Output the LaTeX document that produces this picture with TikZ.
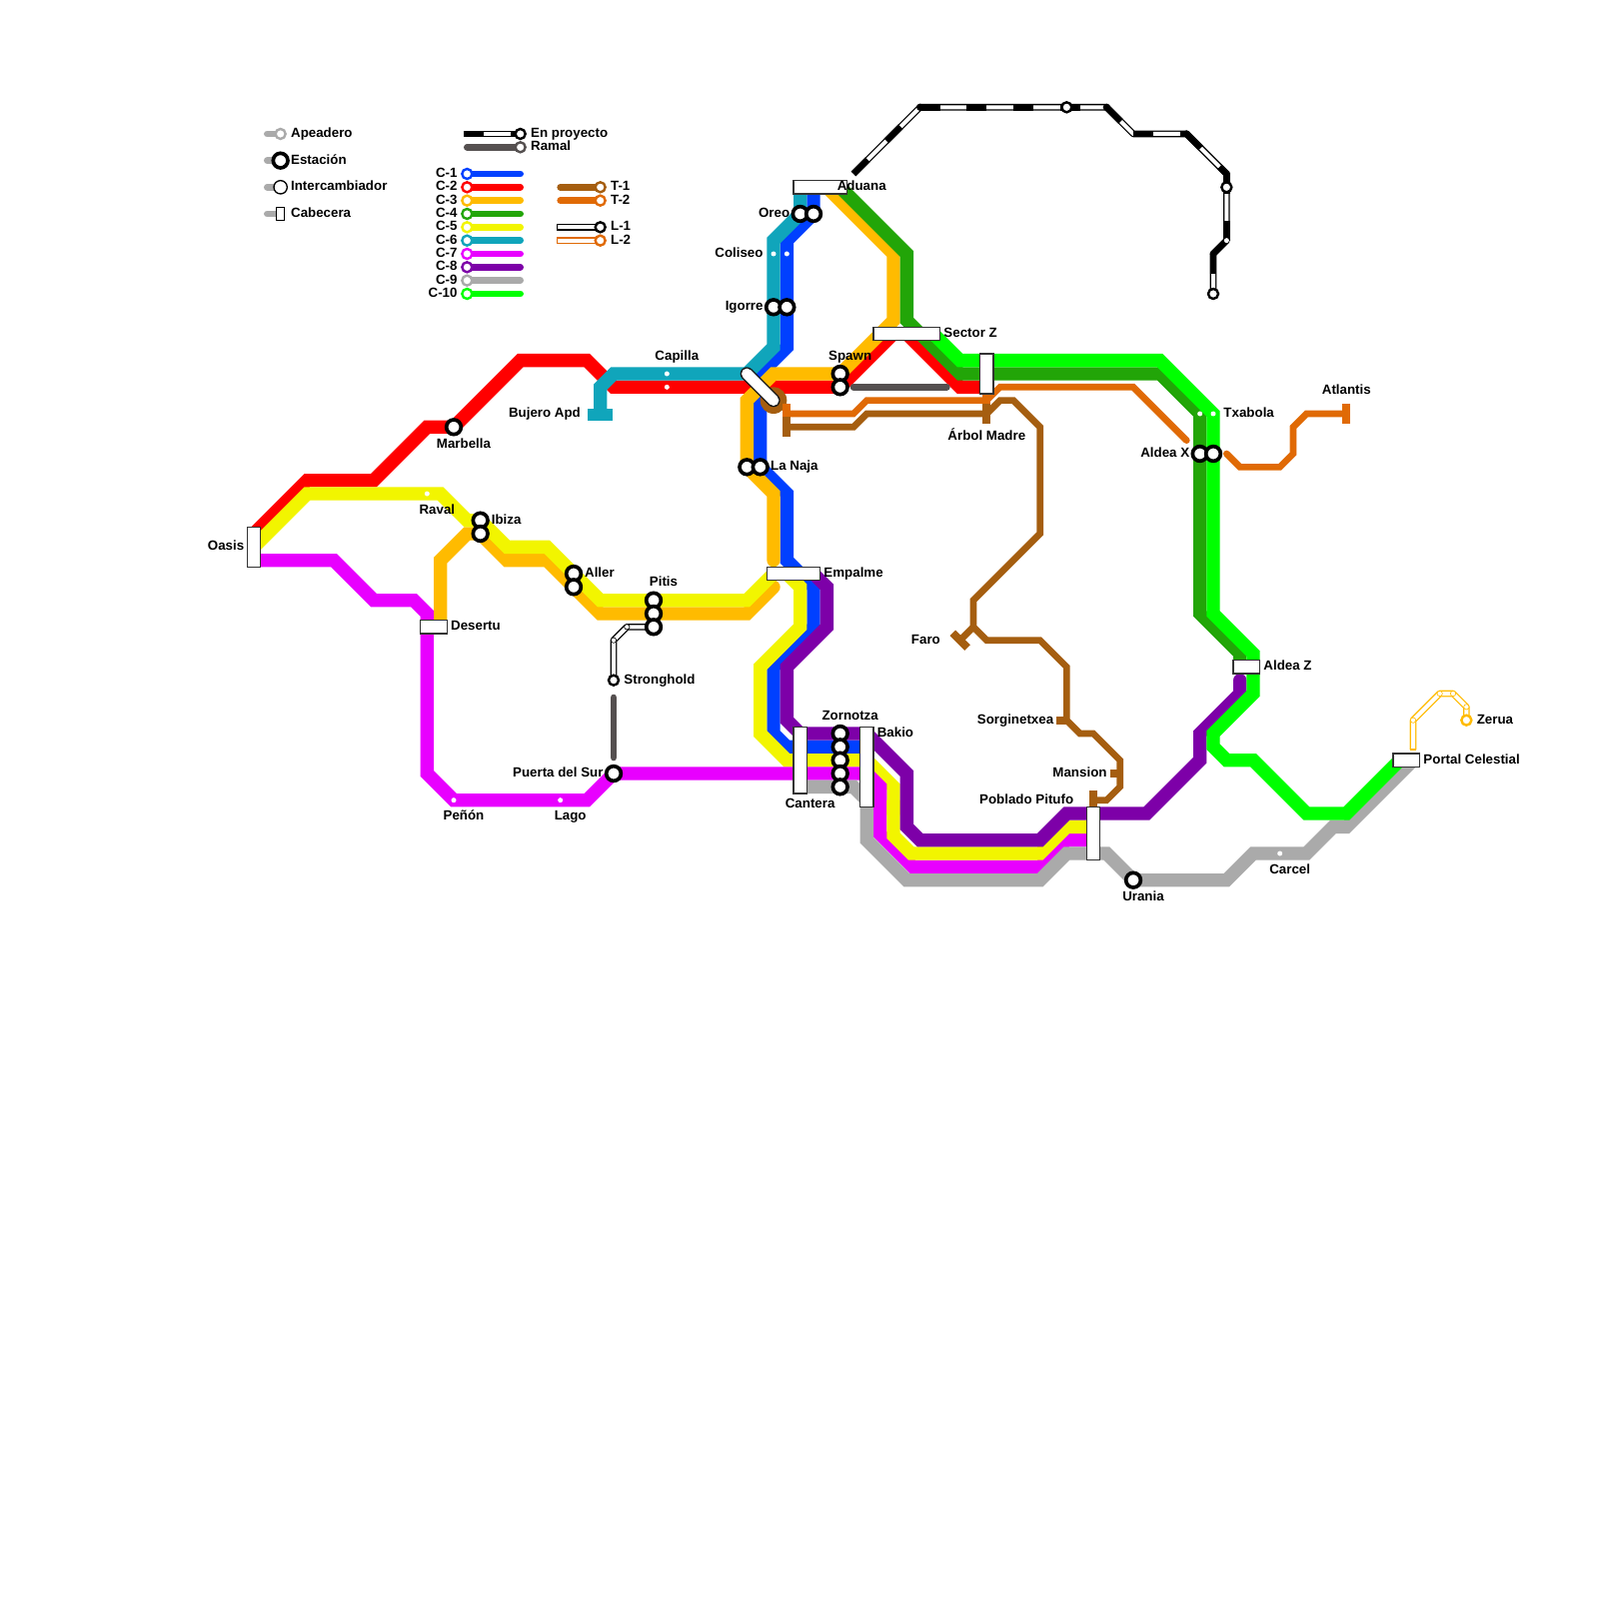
\documentclass[tikz,border=0pt]{standalone}
\usepackage{fontspec}
\setmainfont{Liberation Sans}
\definecolor{cA}{HTML}{0040FF}
\definecolor{cB}{HTML}{FF0000}
\definecolor{cC}{HTML}{FFBB00}
\definecolor{cD}{HTML}{22A508}
\definecolor{cE}{HTML}{F2F500}
\definecolor{cF}{HTML}{10A5BB}
\definecolor{cG}{HTML}{E800FF}
\definecolor{cH}{HTML}{7D00A8}
\definecolor{cI}{HTML}{AAAAAA}
\definecolor{cJ}{HTML}{00FF00}
\definecolor{cT}{HTML}{A55E10}
\definecolor{cU}{HTML}{E06A05}
\definecolor{cR}{HTML}{555050}
\tikzset{
  x=2mm,y=-2mm,
  route/.style={line width=2mm,line cap=round,line join=miter},
  thinroute/.style={line width=1mm,line cap=round,line join=miter},
  bar/.style={line width=1.2mm,line cap=butt},
  lone/.style={draw=black,double=white,line width=.2mm,double distance=.6mm,line join=round},
  works/.style={draw=black,line width=1mm,dash pattern=on 3mm off 4mm,line cap=butt},
  sta/.style={circle,draw=black,fill=white,line width=.55mm,minimum size=2.2mm,inner sep=0pt},
  ssta/.style={circle,draw=#1,fill=white,line width=.36mm,minimum size=1.5mm,inner sep=0pt},
  ssta/.default=black,
  dot/.style={circle,fill=white,minimum size=.75mm,inner sep=0pt},
  cdot/.style={circle,draw=#1,fill=white,line width=.1mm,minimum size=.8mm,inner sep=0pt},
  cdot/.default=black,
  hub/.style={rectangle,draw=black!80,fill=white,line width=.2mm,inner sep=0pt},
  lb/.style={font=\bfseries\fontsize{5.69pt}{5.69pt}\selectfont,text=black,inner sep=0pt},
}
\newcommand{\labW}[4]{\node[lb,anchor=base west] (#1) at (#2,#3+.27) {#4};}
\newcommand{\labE}[4]{\node[lb,anchor=base east] (#1) at (#2,#3+.27) {#4};}
\newcommand{\labC}[4]{\node[lb,anchor=base] (#1) at (#2,#3+.27) {#4};}
\begin{document}
\begin{tikzpicture}
\useasboundingbox (-.05,-.05) rectangle (119.95,119.95);
\fill[white] (-.05,-.05) rectangle (119.95,119.95);

% ---- main lines, C-1 lowest
\draw[route,cA] (61,14)--(61,16)--(59,18)--(59,26)--(57,28)--(57,35)--(59,37)--(59,42)--(61,44)--(61,47)--(58,50)--(58,55)--(59,56)--(65,56);
\draw[route,cB] (19,40)--(23,36)--(28,36)--(32,32)--(34,32)--(39,27)--(44,27)--(46,29)--(63,29)--(67,25)--(68,25)--(72,29)--(74,29);
\draw[route,cC] (62,14)--(67,19)--(67,24)--(63,28)--(58,28)--(56,30)--(56,35)--(58,37)--(58,42);
\draw[route,cC] (33,47)--(33,42)--(35,40)--(36,40)--(38,42)--(41,42)--(45,46)--(56,46)--(58,44);
\draw[route,cD] (63,14)--(68,19)--(68,24)--(72,28)--(87,28)--(90,31)--(90,46)--(93,49)--(93,50);
\draw[route,cE] (19,41)--(23,37)--(33,37)--(35,39)--(36,39)--(38,41)--(41,41)--(45,45)--(56,45)--(58,43)--(59,43)--(60,44)--(60,47)--(57,50)--(57,55)--(59,57)--(65,57)--(67,59)--(67,61);
\draw[route,line cap=butt,cF] (45,31)--(45,29)--(46,28)--(56,28)--(58,26)--(58,18)--(60,16)--(60,14);
\draw[line width=1.8mm,line cap=butt,cF] (44.05,31.05)--(45.95,31.05);
\draw[route,cG] (19,42)--(25,42)--(28,45)--(31,45)--(32,46)--(32,58)--(34,60)--(44,60)--(46,58)--(65,58)--(66,59)--(66,62.55)--(68.45,65)--(78,65)--(80,63)--(82,63);
\draw[route,line cap=butt,cE] (67,60)--(67,62.67)--(68.33,64)--(78,64)--(80,62)--(82,62);
\draw[route,cH] (61,43)--(62,44)--(62,47)--(59,50)--(59,54)--(60,55)--(65,55)--(68,58)--(68,62)--(69,63)--(78,63)--(80,61)--(86,61)--(90,57)--(90,55)--(93,52)--(93,51);
\draw[route,cI] (60,59)--(64,59)--(65,60)--(65,63)--(68,66)--(78,66)--(80,64)--(83,64)--(85,66)--(92,66)--(94,64)--(98,64)--(100,62)--(101,62)--(106,57);
\draw[route,cJ] (70,25)--(72,27)--(87,27)--(91,31)--(91,46)--(94,49)--(94,52)--(91,55)--(91,56)--(92,57)--(94,57)--(98,61)--(101,61)--(105,57);

% ---- T lines
\fill[cT] (58,30) circle (2mm);
\draw[thinroute,cU] (59,31)--(64,31)--(65,30)--(74,30)--(75,29)--(85,29)--(89,33);
\draw[thinroute,cU] (92,34)--(93,35)--(96,35)--(97,34)--(97,32)--(98,31)--(101,31);
\draw[bar,cU] (59,30.25)--(59,31.75);
\draw[bar,cU] (74,29.25)--(74,30.75);
\draw[bar,cU] (101,30.25)--(101,31.75);
\draw[thinroute,cT] (59,32)--(64,32)--(65,31)--(74,31)--(75,30)--(76,30)--(78,32)--(78,40)--(73,45)--(73,47)--(74,48)--(78,48)--(80,50)--(80,54)--(81,55)--(82,55)--(84,57)--(84,59)--(83,60)--(82,60);
\draw[thinroute,cT] (73,47)--(72,48);
\draw[bar,cT] (59,31.25)--(59,32.75);
\draw[bar,cT] (74,30.25)--(74,31.75);
\draw[bar,cT] (71.45,47.45)--(72.55,48.55);
\draw[bar,cT] (79.25,54)--(80,54);
\draw[bar,cT] (83.25,58)--(84,58);
\draw[bar,cT] (82,59.25)--(82,60.75);

% ---- branches
\draw[thinroute,cR] (46,52.3)--(46,56.8);
\draw[thinroute,cR] (64,29)--(71,29);

% ---- projected line
\draw[lone] (64,13)--(69,8)--(83,8)--(85,10)--(89,10)--(92,13)--(92,18)--(91,19)--(91,22);
\draw[works] (64,13)--(69,8);
\draw[works] (69,8)--(83,8);
\draw[works] (83,8)--(85,10);
\draw[works] (85,10)--(89,10);
\draw[works] (89,10)--(92,13);
\draw[works] (92,13)--(92,18);
\draw[works] (92,18)--(91,19);
\draw[works] (91,19)--(91,22);
\fill (69,8) circle (.55mm) (83,8) circle (.55mm) (89,10) circle (.55mm) (92,13) circle (.55mm) (91,19) circle (.5mm);

% ---- stations
\node[ssta] (p1) at (80,8) {};
\node[ssta] (p2) at (92,14) {};
\node[ssta] (p3) at (91,22) {};
\node[dot]  (p4) at (92,18) {};

% L-1
\coordinate (pitL) at (49,47);
\coordinate (strL) at (46,51);
\draw[lone] (pitL)--(47,47)--(46,48)--(strL);
\node[cdot] (l1a) at (47,47) {};
\node[cdot] (l1b) at (46,48) {};
\node[ssta] (stronghold) at (strL) {};

% L-2
\coordinate (zerL) at (110,54);
\draw[lone,draw=cC] (106,56.2)--(106,54)--(108,52)--(109,52)--(110,53)--(zerL);
\draw[cC,line width=.2mm] (105.75,56.2)--(106.25,56.2);
\node[cdot=cC] (l2a) at (106,54) {};
\node[cdot=cC] (l2b) at (108,52) {};
\node[cdot=cC] (l2c) at (109,52) {};
\node[cdot=cC] (l2d) at (110,53) {};
\node[ssta=cC] (zerua) at (zerL) {};

\node[sta] (pitA) at (49,45) {};
\node[sta] (pitB) at (49,46) {};
\node[sta] (pitC) at (pitL) {};
\node[sta] (marbella) at (34,32) {};
\node[sta] (ibizaA) at (36,39) {};
\node[sta] (ibizaB) at (36,40) {};
\node[sta] (allerA) at (43,43) {};
\node[sta] (allerB) at (43,44) {};
\node[sta] (pdelsur) at (46,58) {};
\node[sta] (oreoA) at (60,16) {};
\node[sta] (oreoB) at (61,16) {};
\node[sta] (igorreA) at (58,23) {};
\node[sta] (igorreB) at (59,23) {};
\node[sta] (spawnA) at (63,28) {};
\node[sta] (spawnB) at (63,29) {};
\node[sta] (najaA) at (56,35) {};
\node[sta] (najaB) at (57,35) {};
\node[sta] (zorA) at (63,55) {};
\node[sta] (zorB) at (63,56) {};
\node[sta] (zorC) at (63,57) {};
\node[sta] (zorD) at (63,58) {};
\node[sta] (zorE) at (63,59) {};
\node[sta] (urania) at (85,66) {};
\node[sta] (aldeaA) at (90,34) {};
\node[sta] (aldeaB) at (91,34) {};
% white centres on top, so touching rings stay whole
\foreach \n in {pitA,pitB,pitC,ibizaA,ibizaB,allerA,allerB,oreoA,oreoB,igorreA,igorreB,spawnA,spawnB,najaA,najaB,zorA,zorB,zorC,zorD,zorE,aldeaA,aldeaB}
  \fill[white] (\n.center) circle (.55mm);

\node[dot] (raval) at (32,37) {};
\node[dot] (capA) at (50,28) {};
\node[dot] (capB) at (50,29) {};
\node[dot] (colA) at (58,19) {};
\node[dot] (colB) at (59,19) {};
\node[dot] (penon) at (34,60) {};
\node[dot] (lago) at (42,60) {};
\node[dot] (txaA) at (90,31) {};
\node[dot] (txaB) at (91,31) {};
\node[dot] (carcel) at (96,64) {};

% ---- terminals
\node[hub,minimum width=2mm,minimum height=6mm] (oasis) at (19,41) {};
\node[hub,minimum width=4mm,minimum height=2mm] (desertu) at (32.5,47) {};
\node[hub,minimum width=8mm,minimum height=2mm] (aduana) at (61.5,14) {};
\node[hub,minimum width=10mm,minimum height=2mm] (sectorz) at (68,25) {};
\node[hub,minimum width=2mm,minimum height=6mm] (arbol) at (74,28) {};
\node[hub,minimum width=8mm,minimum height=2mm] (empalme) at (59.5,43) {};
\node[hub,minimum width=2mm,minimum height=10mm] (cantera) at (60,57) {};
\node[hub,minimum width=2mm,minimum height=12mm] (bakio) at (65,57.5) {};
\node[hub,minimum width=2mm,minimum height=8mm] (poblado) at (82,62.5) {};
\node[hub,minimum width=4mm,minimum height=2mm] (aldeaz) at (93.5,50) {};
\node[hub,minimum width=4mm,minimum height=2mm] (portal) at (105.5,57) {};
% interchange
\draw[line width=2mm,line cap=round,black!90] (56,28)--(58,30);
\draw[line width=1.6mm,line cap=round,white] (56,28)--(58,30);

% ---- labels
\labE{lOasis}{18.3}{41}{Oasis}
\labC{lMarbella}{34.75}{33.3}{Marbella}
\labC{lRaval}{32.75}{38.3}{Raval}
\labW{lIbiza}{36.8}{39}{Ibiza}
\labW{lAller}{43.8}{43}{Aller}
\labC{lPitis}{49.75}{43.7}{Pitis}
\labW{lDesertu}{33.75}{47}{Desertu}
\labW{lStronghold}{46.75}{51}{Stronghold}
\labE{lPuerta}{45.25}{58}{Puerta del Sur}
\labC{lPenon}{34.75}{61.2}{Peñón}
\labC{lLago}{42.75}{61.2}{Lago}
\labC{lCapilla}{50.75}{26.75}{Capilla}
\labE{lBujero}{43.55}{31}{Bujero Apd}
\labE{lOreo}{59.25}{16}{Oreo}
\labE{lColiseo}{57.25}{19}{Coliseo}
\labE{lIgorre}{57.25}{23}{Igorre}
\labC{lSpawn}{63.75}{26.75}{Spawn}
\labW{lNaja}{57.75}{35}{La Naja}
\labW{lAduana}{62.75}{14}{Aduana}
\labW{lSector}{70.75}{25}{Sector Z}
\labC{lArbol}{74}{32.75}{Árbol Madre}
\labW{lEmpalme}{61.75}{43}{Empalme}
\labE{lFaro}{70.55}{48}{Faro}
\labC{lZornotza}{63.75}{53.75}{Zornotza}
\labW{lBakio}{65.75}{55}{Bakio}
\labC{lCantera}{60.75}{60.3}{Cantera}
\labE{lSorgin}{79.05}{54}{Sorginetxea}
\labE{lMansion}{83.05}{58}{Mansion}
\labE{lPoblado}{80.55}{60}{Poblado Pitufo}
\labC{lUrania}{85.75}{67.3}{Urania}
\labC{lCarcel}{96.75}{65.3}{Carcel}
\labW{lPortal}{106.75}{57}{Portal Celestial}
\labW{lZerua}{110.75}{54}{Zerua}
\labW{lAldeaZ}{94.75}{50}{Aldea Z}
\labC{lAtlantis}{101}{29.3}{Atlantis}
\labW{lTxabola}{91.75}{31}{Txabola}
\labE{lAldeaX}{89.25}{34}{Aldea X}

% ---- legend, station kinds
\draw[thinroute,cI] (20,10)--(21,10);
\node[ssta=cI] (kApe) at (21,10) {};
\labW{kApeL}{21.75}{10}{Apeadero}
\draw[thinroute,cI] (20,12)--(21,12);
\node[sta] (kEst) at (21,12) {};
\labW{kEstL}{21.75}{12}{Estación}
\draw[thinroute,cI] (20,14)--(21,14);
\node[circle,draw=black,fill=white,line width=.2mm,minimum size=2mm,inner sep=0pt] (kInt) at (21,14) {};
\labW{kIntL}{21.75}{14}{Intercambiador}
\draw[thinroute,cI] (20,16)--(21,16);
\node[hub,draw=black,minimum width=1.2mm,minimum height=2mm] (kCab) at (21,16) {};
\labW{kCabL}{21.75}{16}{Cabecera}

% ---- legend, lines
\coordinate (eP) at (34.75,10);
\coordinate (eQ) at (39,10);
\draw[lone] (eP)--(eQ);
\draw[works] (eP)--(eQ);
\node[ssta] (kPro) at (eQ) {};
\labW{kProL}{39.75}{10}{En proyecto}
\coordinate (eR) at (39,11);
\draw[thinroute,cR] (35,11)--(eR);
\node[ssta=cR] (kRam) at (eR) {};
\labW{kRamL}{39.75}{11}{Ramal}

\foreach \r/\c/\t in {13/cA/C-1,14/cB/C-2,15/cC/C-3,16/cD/C-4,17/cE/C-5,18/cF/C-6,19/cG/C-7,20/cH/C-8,21/cI/C-9,22/cJ/C-10}{
  \coordinate (e\r) at (39,\r);
  \draw[thinroute,\c] (35,\r)--(e\r);
  \node[ssta=\c] (k\r) at (35,\r) {};
  \node[lb,anchor=base east] (t\r) at (34.3,\r+.27) {\t};
}
\foreach \r/\c/\t in {14/cT/T-1,15/cU/T-2}{
  \coordinate (g\r) at (45,\r);
  \draw[thinroute,\c] (42,\r)--(g\r);
  \node[ssta=\c] (m\r) at (g\r) {};
  \node[lb,anchor=base west] (u\r) at (45.75,\r+.27) {\t};
}
\coordinate (g17) at (45,17);
\draw[lone] (41.75,17)--(g17);
\draw[black,line width=.2mm] (41.75,16.75)--(41.75,17.25);
\node[ssta] (m17) at (g17) {};
\node[lb,anchor=base west] (u17) at (45.75,17.27) {L-1};
\coordinate (g18) at (45,18);
\draw[lone,draw=cU] (41.75,18)--(g18);
\draw[cU,line width=.2mm] (41.75,17.75)--(41.75,18.25);
\node[ssta=cU] (m18) at (g18) {};
\node[lb,anchor=base west] (u18) at (45.75,18.27) {L-2};
\end{tikzpicture}
\end{document}
